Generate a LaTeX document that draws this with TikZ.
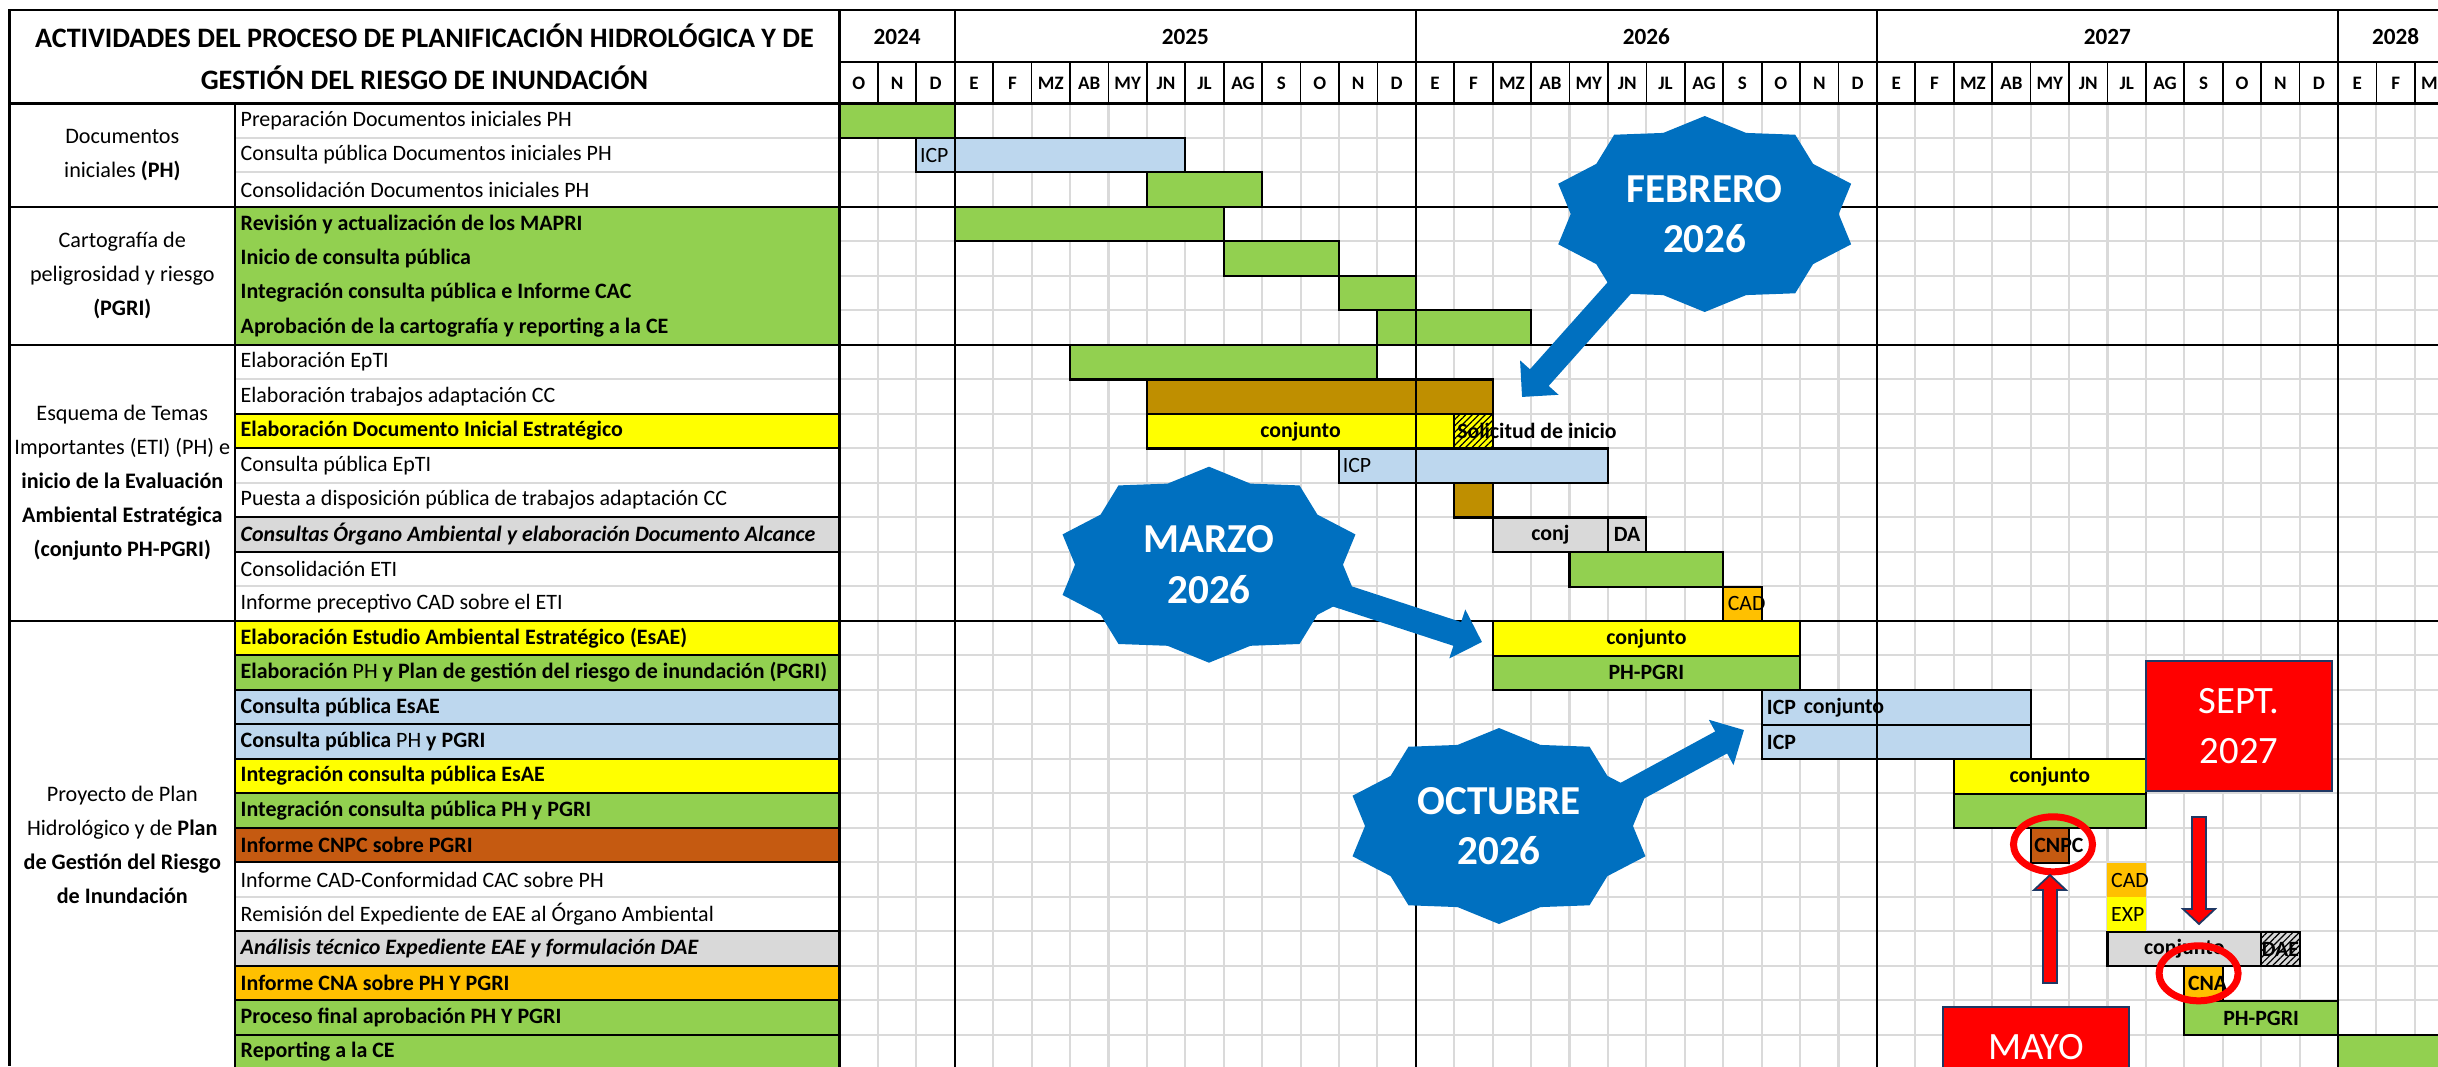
\documentclass[tikz,border=0pt]{standalone}
\usepackage{fontspec}
\setmainfont{Carlito}
\usetikzlibrary{arrows.meta,patterns.meta,shapes.geometric,calc}

\definecolor{barGreen}{HTML}{92D050}
\definecolor{barYellow}{HTML}{FFFF00}
\definecolor{barBlue}{HTML}{BDD7EE}
\definecolor{barGray}{HTML}{D9D9D9}
\definecolor{barBrown}{HTML}{C55A11}
\definecolor{barOrange}{HTML}{FFC000}
\definecolor{barGold}{HTML}{BF8F00}
\definecolor{burstBlue}{HTML}{0070C0}
\definecolor{boxRed}{HTML}{FF0000}
\definecolor{boxEdge}{HTML}{1F3864}
\definecolor{gridGray}{HTML}{DADADA}

\tikzset{
  gridline/.style={draw=gridGray, line width=0.6pt},
  rule/.style={draw=black, line width=0.7pt},
  bar/.style={draw=black, line width=0.6pt},
  cellbox/.style={draw=black, line width=0.6pt},
  acttxt/.style={anchor=west, inner sep=0pt, font=\fontsize{6.25}{7.5}\selectfont},
  grptxt/.style={align=center, inner sep=0pt, font=\fontsize{6.3}{9.7}\selectfont},
  titletxt/.style={align=center, inner sep=0pt, font=\fontsize{8}{11.8}\selectfont\bfseries},
  yeartxt/.style={inner sep=0pt, font=\fontsize{6.6}{8}\selectfont\bfseries},
  monthtxt/.style={inner sep=0pt, font=\fontsize{5.4}{6}\selectfont\bfseries},
  bartxt/.style={inner sep=0pt, font=\fontsize{6.2}{7}\selectfont\bfseries},
  celltxt/.style={inner sep=0pt, anchor=west, font=\fontsize{6.2}{7}\selectfont},
  burstxt/.style={align=center, inner sep=0pt, text=white, font=\fontsize{11.7}{14.3}\selectfont\bfseries},
  burstarrow/.style={draw=burstBlue, line width=0.25cm, -{Triangle[length=0.26cm, width=0.5cm]}},
  redbox/.style={draw=boxEdge, fill=boxRed, line width=0.7pt, minimum width=1.86cm, minimum height=1.3cm,
    align=center, text=white, inner sep=0pt, font=\fontsize{11}{14.4}\selectfont},
  ring/.style={ellipse, draw=boxRed, line width=0.07cm, minimum width=0.79cm, minimum height=0.55cm, inner sep=0pt},
  redarrow/.style={draw=boxEdge, fill=boxRed, line width=0.5pt, line join=miter},
  hatch/.style={postaction={pattern={Lines[angle=45, distance=1.3pt, line width=0.35pt]}}}
}

\begin{document}
\begin{tikzpicture}[x=0.01cm, y=-0.01cm]
  \clip (0,0) rectangle (2438,1066);

  % row lines
  \foreach \r in {1,...,27}
    \draw[gridline] (235,{103.3+34.5*\r}) -- (2438,{103.3+34.5*\r});

  % coloured activity cells
  \draw[cellbox, fill=barGreen] (235,206.8) rectangle (839.5,344.8);
  \foreach \r/\c in {10/barYellow,13/barGray,16/barYellow,17/barGreen,18/barBlue,19/barBlue,20/barYellow,
                     21/barGreen,22/barBrown,25/barGray,26/barOrange,27/barGreen,28/barGreen}
    \draw[cellbox, fill=\c] (235,{103.3+34.5*(\r-1)}) rectangle (839.5,{103.3+34.5*\r});

  % title
  \draw[rule] (9.5,10) rectangle node[titletxt] (title) {ACTIVIDADES DEL PROCESO DE PLANIFICACIÓN HIDROLÓGICA Y DE\\GESTIÓN DEL RIESGO DE INUNDACIÓN} (839.5,103.3);

  % groups
  \node[grptxt] (grpdoc) at (122.3,155) {Documentos\\iniciales \textbf{(PH)}};
  \node[grptxt] (grpcart) at (122.3,275.8) {Cartografía de\\peligrosidad y riesgo\\\textbf{(PGRI)}};
  \node[grptxt] (grpeti) at (122.3,482.8) {Esquema de Temas\\Importantes (ETI) (PH) e\\\textbf{inicio de la Evaluación}\\\textbf{Ambiental Estratégica}\\\textbf{(conjunto PH-PGRI)}};
  \node[grptxt] (grpplan) at (122.3,845) {Proyecto de Plan\\Hidrológico y de \textbf{Plan}\\\textbf{de Gestión del Riesgo}\\\textbf{de Inundación}};

  % activities
  \foreach \t [count=\r] in {Preparación Documentos iniciales PH, Consulta pública Documentos iniciales PH,
      Consolidación Documentos iniciales PH, \textbf{Revisión y actualización de los MAPRI},
      \textbf{Inicio de consulta pública}, \textbf{Integración consulta pública e Informe CAC},
      \textbf{Aprobación de la cartografía y reporting a la CE}, Elaboración EpTI,
      Elaboración trabajos adaptación CC, \textbf{Elaboración Documento Inicial Estratégico},
      Consulta pública EpTI, Puesta a disposición pública de trabajos adaptación CC,
      \textbf{\textit{Consultas Órgano Ambiental y elaboración Documento Alcance}}, Consolidación ETI,
      Informe preceptivo CAD sobre el ETI, \textbf{Elaboración Estudio Ambiental Estratégico (EsAE)},
      \textbf{Elaboración} PH \textbf{y Plan de gestión del riesgo de inundación (PGRI)},
      \textbf{Consulta pública EsAE}, \textbf{Consulta pública} PH \textbf{y PGRI},
      \textbf{Integración consulta pública EsAE}, \textbf{Integración consulta pública PH y PGRI},
      \textbf{Informe CNPC sobre PGRI}, Informe CAD-Conformidad CAC sobre PH,
      Remisión del Expediente de EAE al Órgano Ambiental,
      \textbf{\textit{Análisis técnico Expediente EAE y formulación DAE}}, \textbf{Informe CNA sobre PH Y PGRI},
      \textbf{Proceso final aprobación PH Y PGRI}, \textbf{Reporting a la CE}}
    \node[acttxt] (act\r) at (240,{103.3+34.5*(\r-0.5)}) {\t};

  % timeline
  \begin{scope}[shift={(839.5,103.3)}, x=0.384cm, y=-0.345cm]
    \foreach \m in {1,...,42}
      \draw[gridline] (\m,0) -- (\m,28);
    \foreach \m in {1,...,42}
      \draw[line width=0.5pt] (\m,-1.197) -- (\m,0);
    \foreach \mn [count=\i from 0] in {O,N,D,E,F,MZ,AB,MY,JN,JL,AG,S,O,N,D,E,F,MZ,AB,MY,JN,JL,AG,S,O,N,D,
                                       E,F,MZ,AB,MY,JN,JL,AG,S,O,N,D,E,F,MZ}
      \node[monthtxt] (mon\i) at (\i+0.5,-0.58) {\mn};
    \node[yeartxt] (y2024) at (1.5,-1.93) {2024};
    \node[yeartxt] (y2025) at (9,-1.93) {2025};
    \node[yeartxt] (y2026) at (21,-1.93) {2026};
    \node[yeartxt] (y2027) at (33,-1.93) {2027};
    \node[yeartxt] (y2028) at (40.5,-1.93) {2028};

    % bars
    \draw[bar, fill=barGreen] (0,0) rectangle (3,1);
    \draw[bar, fill=barBlue] (2,1) rectangle (9,2);
    \node[celltxt] (icpdoc) at (2.08,1.5) {ICP};
    \draw[bar, fill=barGreen] (8,2) rectangle (11,3);
    \draw[bar, fill=barGreen] (3,3) rectangle (10,4);
    \draw[bar, fill=barGreen] (10,4) rectangle (13,5);
    \draw[bar, fill=barGreen] (13,5) rectangle (15,6);
    \draw[bar, fill=barGreen] (14,6) rectangle (18,7);
    \draw[bar, fill=barGreen] (6,7) rectangle (14,8);
    \draw[bar, fill=barGold] (8,8) rectangle (17,9);
    \draw[bar, fill=barYellow] (8,9) rectangle node[bartxt] (dieconj) {conjunto} (16,10);
    \draw[bar, fill=barYellow, hatch] (16,9) rectangle (17,10);
    \node[bartxt, anchor=west] (diesol) at (16.06,9.5) {Solicitud de inicio};
    \draw[bar, fill=barBlue] (13,10) rectangle (20,11);
    \node[celltxt] (icpepti) at (13.08,10.5) {ICP};
    \draw[bar, fill=barGold] (16,11) rectangle (17,12);
    \draw[bar, fill=barGray] (17,12) rectangle node[bartxt] (oaconj) {conj} (20,13);
    \draw[bar, fill=barGray] (20,12) rectangle node[bartxt] (oada) {DA} (21,13);
    \draw[bar, fill=barGreen] (19,13) rectangle (23,14);
    \draw[bar, fill=barOrange] (23,14) rectangle (24,15);
    \node[celltxt] (cadeti) at (23.1,14.5) {CAD};
    \draw[bar, fill=barYellow] (17,15) rectangle node[bartxt] (esaeconj) {conjunto} (25,16);
    \draw[bar, fill=barGreen] (17,16) rectangle node[bartxt] (phpgria) {PH-PGRI} (25,17);
    \draw[bar, fill=barBlue] (24,17) rectangle (31,18);
    \node[bartxt, anchor=west] (icpesae) at (24.12,17.5) {ICP};
    \node[bartxt, anchor=west] (esaecp) at (25.08,17.5) {conjunto};
    \draw[bar, fill=barBlue] (24,18) rectangle (31,19);
    \node[bartxt, anchor=west] (icpph) at (24.12,18.5) {ICP};
    \draw[bar, fill=barYellow] (29,19) rectangle node[bartxt] (intconj) {conjunto} (34,20);
    \draw[bar, fill=barGreen] (29,20) rectangle (34,21);
    \draw[bar, fill=barBrown] (31,21) rectangle (32,22);
    \node[bartxt, anchor=west] (cnpc) at (31.08,21.5) {CNPC};
    \fill[barOrange] (33,22) rectangle (34,23);
    \node[celltxt] (cadph) at (33.08,22.5) {CAD};
    \fill[barYellow] (33,23) rectangle (34,24);
    \node[celltxt] (expea) at (33.08,23.5) {EXP};
    \draw[bar, fill=barGray] (33,24) rectangle node[bartxt] (daeconj) {conjunto} (37,25);
    \draw[bar, fill=barGray, hatch] (37,24) rectangle node[bartxt] (dae) {DAE} (38,25);
    \draw[bar, fill=barOrange] (35,25) rectangle (36,26);
    \node[bartxt, anchor=west] (cna) at (35.08,25.5) {CNA};
    \draw[bar, fill=barGreen] (35,26) rectangle node[bartxt] (phpgrib) {PH-PGRI} (39,27);
    \draw[bar, fill=barGreen] (39,27) rectangle (43,28);

    % year lines
    \foreach \m in {0,3,15,27,39}
      \draw[rule] (\m,-2.704) -- (\m,28);
  \end{scope}

  % table rules
  \draw[rule] (9.5,10) -- (2438,10);
  \draw[rule] (839.5,62) -- (2438,62);
  \draw[rule] (9.5,103.3) -- (2438,103.3);
  \foreach \y in {206.8,344.8,620.8}
    \draw[rule] (9.5,\y) -- (2438,\y);
  \draw[rule] (9.5,10) -- (9.5,1066);
  \draw[rule] (235,103.3) -- (235,1066);

  % callouts
  \coordinate (febtail) at (1655,248);
  \coordinate (febtip) at (1522,397);
  \coordinate (martail) at (1292,580);
  \coordinate (martip) at (1482,642);
  \coordinate (octtail) at (1560,830);
  \coordinate (octtip) at (1744,730);
  \draw[burstarrow] (febtail) -- (febtip);
  \draw[burstarrow] (martail) -- (martip);
  \draw[burstarrow] (octtail) -- (octtip);
  \foreach \cx/\cy in {1704.7/214,1209/564.7,1499/826}
    \fill[burstBlue] plot[samples at={0,...,19}, variable=\k]
      ({\cx+154*(1-0.13*mod(\k,2))*cos(90+18*\k)}, {\cy-98*(1-0.13*mod(\k,2))*sin(90+18*\k)}) -- cycle;
  \node[burstxt] (febrero) at (1704.7,214) {FEBRERO\\2026};
  \node[burstxt] (marzo) at (1209,564.7) {MARZO\\2026};
  \node[burstxt] (octubre) at (1499,826) {OCTUBRE\\2026};

  \node[redbox] (septbox) at (2239,726) {SEPT.\\2027};
  \node[redbox] (maybox) at (2036,1072) {MAYO\\\phantom{2027}};
  \node[ring] (cnpcring) at (2053,844.3) {};
  \node[ring] (cnaring) at (2198.6,973.3) {};

  \coordinate (mayfoot) at (2050,983);
  \coordinate (maytip) at (2050,875);
  \draw[redarrow] ($(mayfoot)+(-7,0)$) -- ($(maytip)+(-7,15)$) -- ($(maytip)+(-16,15)$) -- (maytip)
    -- ($(maytip)+(16,15)$) -- ($(maytip)+(7,15)$) -- ($(mayfoot)+(7,0)$) -- cycle;
  \coordinate (septfoot) at (2199,817);
  \coordinate (septtip) at (2199,924);
  \draw[redarrow] ($(septfoot)+(-7,0)$) -- ($(septtip)+(-7,-15)$) -- ($(septtip)+(-16,-15)$) -- (septtip)
    -- ($(septtip)+(16,-15)$) -- ($(septtip)+(7,-15)$) -- ($(septfoot)+(7,0)$) -- cycle;
\end{tikzpicture}
\end{document}
